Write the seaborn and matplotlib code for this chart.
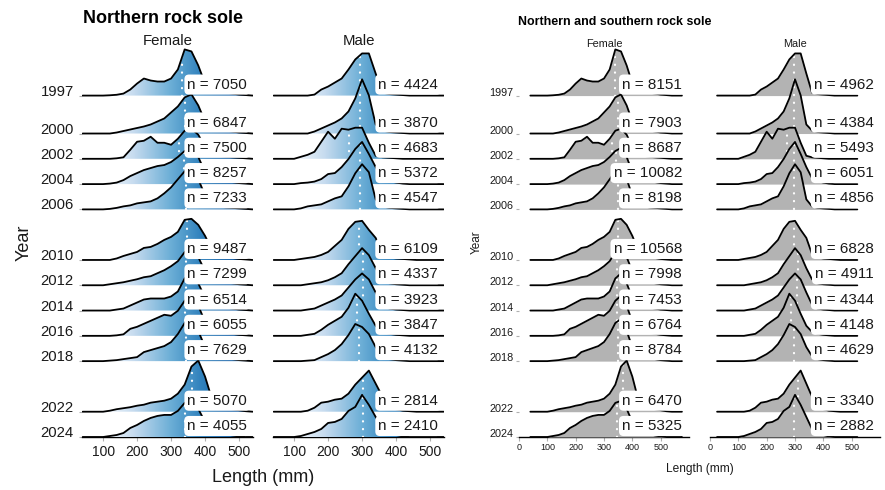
import numpy as np
import matplotlib
matplotlib.use("Agg")
import matplotlib.pyplot as plt
import seaborn as sns
from matplotlib.colors import LinearSegmentedColormap, Normalize
from matplotlib.patches import PathPatch
from matplotlib.path import Path

sns.set_theme(style="white")
plt.rcParams["font.family"] = ["Liberation Sans", "DejaVu Sans"]

# ---------------------------------------------------------------- data
years = [1997, 2000, 2002, 2004, 2006, 2010, 2012, 2014, 2016, 2018, 2022, 2024]
lengths = list(range(40, 541, 20))  # mm

# relative length-frequency density per year (same grid as `lengths`)
fem_1997 = [0, 0, 0, 0, 0.3, 0.8, 2, 6, 12, 17, 15, 14, 14, 17, 26, 46, 44, 30, 12, 6, 4, 3, 2, 1, 0.5, 0]
fem_2000 = [0, 0, 0, 0, 0, 1, 2.5, 4, 5.5, 7, 9, 12, 15, 21, 27, 36, 39, 28, 12, 6, 4, 3, 2, 1, 0.5, 0]
fem_2002 = [0, 0, 0, 0, 0, 0.5, 1.5, 9, 17, 18, 22, 16, 16, 14, 20, 28, 30, 24, 12, 6, 3, 2, 1.5, 1, 0.5, 0]
fem_2004 = [0, 0, 0, 0, 0.5, 1.5, 4, 8, 11, 14, 16, 18, 19, 22, 27, 33, 36, 27, 12, 6, 4, 3, 2, 1, 0.5, 0]
fem_2006 = [0, 0, 0, 0, 0.5, 1.5, 3, 4, 6, 7, 8, 11, 16, 22, 30, 38, 40, 30, 14, 6, 3, 2, 1.5, 1, 0.5, 0]
fem_2010 = [0, 0, 0, 0, 0, 1.5, 4, 6, 8, 12, 13, 16, 20, 23, 28, 40, 41, 35, 24, 10, 5, 3, 2, 1, 0.5, 0]
fem_2012 = [0, 0, 0, 0, 1, 2, 3, 4.5, 6, 8, 9, 12, 15, 19, 24, 33, 37, 28, 14, 6, 4, 3, 2, 1, 0.5, 0]
fem_2014 = [0, 0, 0, 0, 0, 1, 2, 5, 8, 11, 12, 12, 12, 14, 19, 32, 37, 27, 13, 6, 4, 3, 2, 1, 0.5, 0]
fem_2016 = [0, 0, 0, 0, 0, 0.5, 1.5, 7, 9, 12, 15, 18, 21, 20, 25, 35, 40, 30, 14, 6, 4, 3, 2, 1, 0.5, 0]
fem_2018 = [0, 0, 0, 0, 0.5, 1, 2, 3, 4, 9, 11, 13, 15, 19, 27, 38, 42, 30, 14, 6, 4, 3, 2, 1, 0.5, 0]
fem_2022 = [0, 0, 0, 0, 1, 2.5, 3.5, 4.5, 6, 7, 9, 10, 11, 13, 18, 27, 45, 51, 35, 13, 6, 4, 2.5, 1.5, 0.5, 0]
fem_2024 = [0, 0, 0, 0, 1, 2, 4, 9, 12, 16, 19, 21, 22, 22, 26, 34, 36, 28, 15, 7, 4, 3, 1.5, 0.5, 0, 0]

mal_1997 = [0, 0, 0, 0, 0, 0, 1, 6, 9, 13, 17, 26, 36, 42, 42, 22, 3, 1.5, 1, 0.5, 0, 0, 0, 0, 0, 0]
mal_2000 = [0, 0, 0, 0, 0, 0, 2, 5, 8, 11, 15, 22, 35, 54, 38, 9, 3, 1.5, 1, 0.5, 0, 0, 0, 0, 0, 0]
mal_2002 = [0, 0, 0, 0, 2, 4, 7, 17, 27, 20, 30, 29, 31, 31, 16, 3, 1.5, 1, 0.5, 0, 0, 0, 0, 0, 0, 0]
mal_2004 = [0, 0, 0, 0, 1, 1.5, 2.5, 5, 10, 11, 17, 25, 35, 42, 30, 17, 6, 3, 1.5, 0.5, 0, 0, 0, 0, 0, 0]
mal_2006 = [0, 0, 0, 0, 1, 3, 4, 5, 8, 11, 13, 23, 36, 45, 37, 10, 3, 1.5, 1, 0.5, 0, 0, 0, 0, 0, 0]
mal_2010 = [0, 0, 0, 0, 1, 2, 3, 5, 8, 14, 20, 31, 38, 39, 30, 22, 6, 2.5, 1.5, 1, 0.5, 0, 0, 0, 0, 0]
mal_2012 = [0, 0, 0, 0, 0, 1, 2, 3, 5, 8, 12, 21, 29, 37, 30, 17, 6, 2, 1, 0.5, 0, 0, 0, 0, 0, 0]
mal_2014 = [0, 0, 0, 0, 0, 1, 2, 5, 8, 11, 15, 23, 31, 37, 31, 18, 6, 2, 1, 0.5, 0, 0, 0, 0, 0, 0]
mal_2016 = [0, 0, 0, 0, 0, 1, 2, 6, 11, 15, 19, 28, 42, 35, 22, 10, 4, 2, 1, 0.5, 0, 0, 0, 0, 0, 0]
mal_2018 = [0, 0, 0, 0, 0, 0.5, 1, 4, 7, 11, 17, 26, 37, 34, 27, 14, 5, 2, 1, 0.5, 0, 0, 0, 0, 0, 0]
mal_2022 = [0, 0, 0, 0, 0, 1, 4, 9, 10, 12, 13, 18, 27, 34, 41, 28, 15, 6, 2.5, 1, 0.5, 0, 0, 0, 0, 0]
mal_2024 = [0, 0, 0, 0, 1, 3, 5, 8, 14, 15, 18, 26, 30, 42, 32, 20, 8, 4, 2, 0.5, 0, 0, 0, 0, 0, 0]

female_density = [fem_1997, fem_2000, fem_2002, fem_2004, fem_2006, fem_2010,
                  fem_2012, fem_2014, fem_2016, fem_2018, fem_2022, fem_2024]
male_density = [mal_1997, mal_2000, mal_2002, mal_2004, mal_2006, mal_2010,
                mal_2012, mal_2014, mal_2016, mal_2018, mal_2022, mal_2024]

# sample sizes
north_female_n = [7050, 6847, 7500, 8257, 7233, 9487, 7299, 6514, 6055, 7629, 5070, 4055]
north_male_n = [4424, 3870, 4683, 5372, 4547, 6109, 4337, 3923, 3847, 4132, 2814, 2410]
both_female_n = [8151, 7903, 8687, 10082, 8198, 10568, 7998, 7453, 6764, 8784, 6470, 5325]
both_male_n = [4962, 4384, 5493, 6051, 4856, 6828, 4911, 4344, 4148, 4629, 3340, 2882]

# mean length (mm)
north_female_mean = [333, 341, 322, 338, 345, 347, 345, 343, 342, 344, 362, 340]
north_male_mean = [294, 294, 263, 294, 294, 291, 303, 302, 285, 291, 303, 304]
both_female_mean = [338, 349, 327, 343, 349, 349, 345, 345, 345, 349, 368, 347]
both_male_mean = [298, 298, 270, 298, 298, 298, 309, 308, 287, 298, 309, 298]

# observed length range of each sample (mm)
north_range = (40, 540)
both_female_range = (40, 575)
both_male_range = (25, 520)

# ---------------------------------------------------------------- styling
W, H = 885, 490
RIDGE_SCALE = 1 / 12.6          # density units -> year units
blues = LinearSegmentedColormap.from_list(
    "ridge_blues",
    [(0.0, "#ffffff"), (0.25, "#c6dbef"), (0.5, "#6baed6"), (0.7, "#3182bd"), (1.0, "#08519c")])
blue_norm = Normalize(80, 520)

fig = plt.figure(figsize=(W / 100, H / 100), dpi=100)


def px_axes(left, top, width, height):
    return fig.add_axes([left / W, 1 - (top + height) / H, width / W, height / H])


def ridge_xy(density, rng):
    x = [l for l in lengths if rng[0] < l < rng[1]]
    h = [d for l, d in zip(lengths, density) if rng[0] < l < rng[1]]
    return np.array([rng[0]] + x + [rng[1]], float), np.array([0.0] + h + [0.0])


def draw_ridges(ax, densities, means, rng, xlim, fill):
    for i, yr in enumerate(years):
        x, h = ridge_xy(densities[i], rng)
        top = yr - h * RIDGE_SCALE
        z = 10 + 3 * i
        if fill == "gradient":
            verts = np.column_stack([np.r_[x, x[::-1]], np.r_[top, np.full(len(x), yr)]])
            patch = PathPatch(Path(verts), transform=ax.transData, fc="none", ec="none")
            ax.add_patch(patch)
            grad = np.linspace(xlim[0], xlim[1], 500)[None, :]
            im = ax.imshow(grad, extent=(xlim[0], xlim[1], yr + 0.3, yr - 6), aspect="auto",
                           cmap=blues, norm=blue_norm, zorder=z, interpolation="bilinear")
            im.set_clip_path(patch)
        else:
            ax.fill_between(x, yr, top, color=fill, lw=0, zorder=z)
        m = means[i]
        hm = np.interp(m, x, h)
        ax.plot([m, m], [yr, yr - hm * RIDGE_SCALE], color="white", lw=1.6,
                ls=(0, (0.1, 3.4)), dash_capstyle="round", zorder=z + 1)
        sns.lineplot(x=x, y=top, ax=ax, color="black", linewidth=1.3,
                     estimator=None, sort=False, zorder=z + 2)
    return ax


def add_labels(ax, counts, label_x, size):
    for yr, n in zip(years, counts):
        ax.text(label_x, yr - 0.87, f"n = {n}", ha="right", va="center", fontsize=size,
                color="#1a1a1a", zorder=300,
                bbox=dict(boxstyle="round,pad=0.2,rounding_size=0.3", fc="white", ec="none"))


def style_axes(ax, xlim, xticks, tick_size, year_size, show_years, pad_y, pad_x):
    ax.set_xlim(*xlim)
    ax.set_ylim(2024, 1993)
    for s in ("top", "right", "left"):
        ax.spines[s].set_visible(False)
    ax.spines["bottom"].set_color("black")
    ax.spines["bottom"].set_linewidth(1.0)
    ax.set_xticks(xticks)
    ax.set_xticklabels([str(t) for t in xticks])
    ax.tick_params(axis="x", length=3, width=0.8, color="#b0b0b0", pad=pad_x,
                   labelsize=tick_size, labelcolor="#1a1a1a", bottom=True)
    if show_years:
        ax.set_yticks(years)
        ax.set_yticklabels([str(y) for y in years])
        ax.tick_params(axis="y", length=2.5, width=0.8, color="#b0b0b0", pad=pad_y,
                       labelsize=year_size, labelcolor="#1a1a1a", left=True)
        for lab in ax.get_yticklabels():
            lab.set_verticalalignment("baseline")
    else:
        ax.set_yticks([])
    ax.set_xlabel("")
    ax.set_ylabel("")
    ax.set_facecolor("none")


# ---------------------------------------------------------------- left: northern rock sole
left_xlim = (38, 541)
ax_nf = px_axes(82, 45, 171, 392)
ax_nm = px_axes(273, 45, 171, 392)
draw_ridges(ax_nf, female_density, north_female_mean, north_range, left_xlim, "gradient")
draw_ridges(ax_nm, male_density, north_male_mean, north_range, left_xlim, "gradient")
add_labels(ax_nf, north_female_n, 524, 11)
add_labels(ax_nm, north_male_n, 524, 11)
style_axes(ax_nf, left_xlim, [100, 200, 300, 400, 500], 10, 10.7, True, 3.5, 3)
style_axes(ax_nm, left_xlim, [100, 200, 300, 400, 500], 10, 10.7, False, 3.5, 3)

fig.text(83 / W, 1 - 23 / H, "Northern rock sole", fontsize=13, fontweight="bold",
         ha="left", va="baseline", color="black")
fig.text(167.5 / W, 1 - 41 / H, "Female", fontsize=10.8, ha="center", va="center", color="#1a1a1a")
fig.text(358.5 / W, 1 - 41 / H, "Male", fontsize=10.8, ha="center", va="center", color="#1a1a1a")
fig.text(24 / W, 1 - 243 / H, "Year", fontsize=13, rotation=90, ha="center", va="center", color="#1a1a1a")
fig.text(263 / W, 1 - 477 / H, "Length (mm)", fontsize=13, ha="center", va="center", color="#1a1a1a")

# ---------------------------------------------------------------- right: northern and southern rock sole
right_xlim = (0, 600)
ax_bf = px_axes(519, 45, 170, 392)
ax_bm = px_axes(710, 45, 170, 392)
draw_ridges(ax_bf, female_density, both_female_mean, both_female_range, right_xlim, "#b3b3b3")
draw_ridges(ax_bm, male_density, both_male_mean, both_male_range, right_xlim, "#b3b3b3")
add_labels(ax_bf, both_female_n, 575, 11)
add_labels(ax_bm, both_male_n, 578, 11)
style_axes(ax_bf, right_xlim, [0, 100, 200, 300, 400, 500], 6.5, 7.8, True, 1.5, 1.5)
style_axes(ax_bm, right_xlim, [0, 100, 200, 300, 400, 500], 6.5, 7.8, False, 1.5, 1.5)

fig.text(518 / W, 1 - 25 / H, "Northern and southern rock sole", fontsize=8.9, fontweight="bold",
         ha="left", va="baseline", color="black")
fig.text(604 / W, 1 - 44 / H, "Female", fontsize=7.8, ha="center", va="center", color="#1a1a1a")
fig.text(795 / W, 1 - 44 / H, "Male", fontsize=7.8, ha="center", va="center", color="#1a1a1a")
fig.text(477 / W, 1 - 242 / H, "Year", fontsize=8.5, rotation=90, ha="center", va="center", color="#1a1a1a")
fig.text(700 / W, 1 - 469 / H, "Length (mm)", fontsize=8.6, ha="center", va="center", color="#1a1a1a")

fig.savefig("out.png", dpi=100, facecolor="white")
